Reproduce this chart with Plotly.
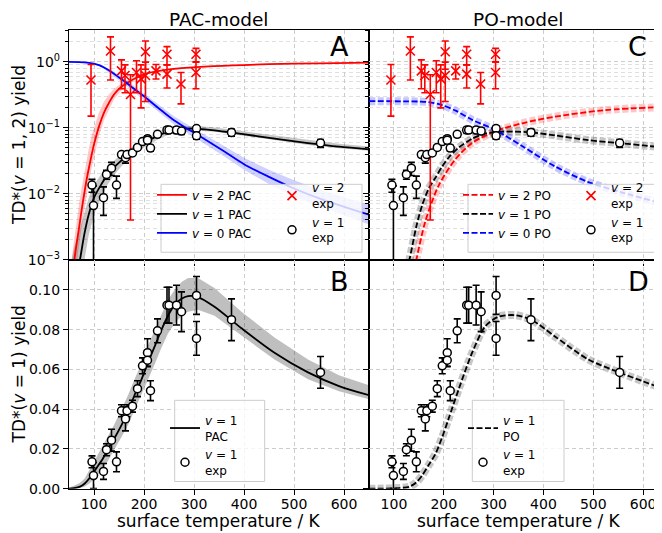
import plotly.graph_objects as go

W, H = 662, 533
FONT = "DejaVu Sans"

# ---------------- experimental data ----------------
T_v1 = [96, 99, 119, 125, 135, 145, 155, 163, 166, 177, 187, 197, 207, 207, 213, 227, 246, 250, 265, 275, 305, 305, 375, 553]
Y_v1 = [0.0135, 0.0066, 0.0087, 0.0196, 0.0244, 0.0135, 0.0392, 0.0351, 0.0392, 0.0415, 0.0503, 0.0618,
        0.0684, 0.0646, 0.0493, 0.0794, 0.0923, 0.0923, 0.0923, 0.0890, 0.0972, 0.0756, 0.0850, 0.0585]
E_v1 = [0.003, 0.00655, 0.004, 0.003, 0.0055, 0.005, 0.003, 0.006, 0.003, 0.003, 0.004, 0.004,
        0.007, 0.003, 0.005, 0.006, 0.009, 0.009, 0.010, 0.010, 0.0095, 0.0085, 0.0105, 0.008]

T_v2 = [94, 133, 155, 162, 173, 185, 194, 203, 203, 224, 246, 246, 274, 304, 304]
Y_v2 = [0.53, 1.46, 0.73, 0.62, 0.32, 0.69, 0.55, 1.42, 0.62, 0.73, 1.30, 0.65, 0.46, 1.30, 0.69]
E_v2 = [0.38, 0.93, 0.34, 0.28, 0.316, 0.35, 0.35, 0.65, 0.37, 0.18, 0.40, 0.25, 0.23, 0.30, 0.30]

# ---------------- PAC model ----------------
T_pac2 = [55, 60, 65, 70, 75, 80, 85, 90, 95, 100, 110, 120, 130, 140, 155, 170, 190, 210, 240, 275, 340, 450, 550, 650]
pac2 = [0.0004, 0.0009, 0.0017, 0.003, 0.0055, 0.0095, 0.016, 0.025, 0.038, 0.056, 0.105, 0.17, 0.24, 0.32,
        0.42, 0.50, 0.60, 0.68, 0.75, 0.80, 0.86, 0.92, 0.95, 0.97]
pac2_hi = [0.001, 0.002, 0.004, 0.007, 0.012, 0.02, 0.032, 0.05, 0.075, 0.10, 0.17, 0.25, 0.32, 0.39,
           0.47, 0.54, 0.62, 0.69, 0.76, 0.81, 0.87, 0.93, 0.96, 0.98]
pac2_lo = [0.0002, 0.0005, 0.0009, 0.0016, 0.003, 0.005, 0.009, 0.015, 0.024, 0.037, 0.075, 0.13, 0.19, 0.27,
           0.37, 0.46, 0.58, 0.66, 0.74, 0.79, 0.85, 0.91, 0.94, 0.96]

T_pac1 = [50, 60, 72, 81, 90, 101, 115, 128, 140, 155, 168, 181, 195, 208, 222, 235, 248, 261, 275, 288,
          308, 341, 395, 461, 528, 590, 650]
pac1 = [0.00005, 0.0003, 0.001, 0.0025, 0.005, 0.009, 0.014, 0.0198, 0.025, 0.032, 0.039, 0.047, 0.055,
        0.0634, 0.072, 0.080, 0.087, 0.0923, 0.0955, 0.0969, 0.0964, 0.0915, 0.0807, 0.0684, 0.0585, 0.0516, 0.047]
pac1_hi = [0.0006, 0.0015, 0.003, 0.005, 0.009, 0.014, 0.02, 0.026, 0.032, 0.040, 0.047, 0.055, 0.063,
           0.072, 0.080, 0.088, 0.095, 0.100, 0.104, 0.106, 0.106, 0.101, 0.089, 0.076, 0.065, 0.057, 0.052]
pac1_lo = [0.00001, 0.00005, 0.0003, 0.001, 0.0025, 0.005, 0.009, 0.014, 0.019, 0.026, 0.032, 0.039, 0.047,
           0.055, 0.063, 0.071, 0.078, 0.083, 0.087, 0.089, 0.090, 0.087, 0.077, 0.065, 0.055, 0.049, 0.045]

T_pac0 = [50, 70, 80, 90, 100, 110, 120, 135, 150, 165, 180, 200, 220, 240, 260, 290, 320, 360, 400, 450, 500, 560, 650]
pac0 = [0.995, 0.99, 0.98, 0.965, 0.94, 0.89, 0.82, 0.70, 0.58, 0.48, 0.39, 0.30, 0.225, 0.17, 0.13, 0.093,
        0.068, 0.044, 0.028, 0.018, 0.012, 0.008, 0.0048]
pac0_hi = [1.0, 0.995, 0.99, 0.98, 0.96, 0.92, 0.86, 0.75, 0.63, 0.53, 0.43, 0.335, 0.255, 0.195, 0.15, 0.108,
           0.08, 0.053, 0.035, 0.023, 0.016, 0.011, 0.0068]
pac0_lo = [0.99, 0.985, 0.97, 0.95, 0.92, 0.86, 0.78, 0.65, 0.53, 0.43, 0.35, 0.27, 0.20, 0.15, 0.112, 0.08,
           0.058, 0.037, 0.023, 0.014, 0.009, 0.006, 0.0034]

# ---------------- PO model ----------------
T_po2 = [130, 145, 163, 190, 223, 257, 303, 357, 423, 523, 650]
po2 = [0.0003, 0.001, 0.0038, 0.0134, 0.033, 0.059, 0.088, 0.117, 0.147, 0.185, 0.208]

T_po1 = [50, 80, 110, 131, 145, 157, 170, 183, 197, 210, 230, 257, 283, 310, 343, 377, 423, 490, 552, 600, 650]
po1 = [0.00001, 0.00005, 0.0003, 0.001, 0.0032, 0.0068, 0.012, 0.0173, 0.026, 0.0354, 0.050, 0.0684, 0.0816,
       0.0865, 0.0873, 0.0848, 0.0766, 0.065, 0.0585, 0.054, 0.0494]

T_po0 = [50, 120, 150, 170, 197, 225, 257, 303, 357, 423, 490, 557, 650]
po0 = [0.253, 0.252, 0.25, 0.245, 0.22, 0.18, 0.132, 0.093, 0.053, 0.026, 0.015, 0.0105, 0.0067]

# tick labels
log_tickvals = [0.001, 0.01, 0.1, 1]
log_ticktext = ["10<sup>−3</sup>", "10<sup>−2</sup>", "10<sup>−1</sup>", "10<sup>0</sup>"]
lin_tickvals = [0.0, 0.02, 0.04, 0.06, 0.08, 0.10]
lin_ticktext = ["0.00", "0.02", "0.04", "0.06", "0.08", "0.10"]
x_ticks = [100, 200, 300, 400, 500, 600]

RED, BLACK, BLUE = "#ff0000", "#000000", "#0000ff"
DASH = "6px,2.5px"

fig = go.Figure()


def band(xa, ya, T, lo, hi, color):
    fig.add_trace(go.Scatter(x=list(T) + list(T)[::-1], y=list(hi) + list(lo)[::-1], fill="toself",
                             fillcolor=color, line=dict(width=0), mode="lines", hoverinfo="skip",
                             showlegend=False, xaxis=xa, yaxis=ya))


def curve(xa, ya, T, v, color, name=None, legend=None, dash="solid", width=1.8):
    fig.add_trace(go.Scatter(x=T, y=v, mode="lines", line=dict(color=color, width=width, dash=dash,
                                                               shape="spline", smoothing=0.8),
                             name=name, legend=legend, showlegend=name is not None,
                             xaxis=xa, yaxis=ya))


def blur(xa, ya, T, v, color):
    fig.add_trace(go.Scatter(x=T, y=v, mode="lines", line=dict(color=color, width=8, dash=DASH,
                                                               shape="spline", smoothing=0.8),
                             showlegend=False, hoverinfo="skip", xaxis=xa, yaxis=ya))


def exp_v1(xa, ya, legend):
    fig.add_trace(go.Scatter(x=T_v1, y=Y_v1, mode="markers", name="<i>v</i> = 1<br>exp", legend=legend,
                             error_y=dict(type="data", array=E_v1, color=BLACK, thickness=1.6, width=3.5),
                             marker=dict(symbol="circle", size=8, color="white",
                                         line=dict(color=BLACK, width=1.5)),
                             xaxis=xa, yaxis=ya))


def exp_v2(xa, ya, legend):
    fig.add_trace(go.Scatter(x=T_v2, y=Y_v2, mode="markers", name="<i>v</i> = 2<br>exp", legend=legend,
                             error_y=dict(type="data", array=E_v2, color=RED, thickness=1.6, width=3.5),
                             marker=dict(symbol="x-thin", size=9, color=RED,
                                         line=dict(color=RED, width=1.6)),
                             xaxis=xa, yaxis=ya))


# ---- Panel A (x, y) ----
band("x", "y", T_pac2, pac2_lo, pac2_hi, "rgba(255,0,0,0.22)")
band("x", "y", T_pac1, pac1_lo, pac1_hi, "rgba(0,0,0,0.22)")
band("x", "y", T_pac0, pac0_lo, pac0_hi, "rgba(0,0,255,0.18)")
curve("x", "y", T_pac2, pac2, RED, "<i>v</i> = 2 PAC", "legend")
curve("x", "y", T_pac1, pac1, BLACK, "<i>v</i> = 1 PAC", "legend")
curve("x", "y", T_pac0, pac0, BLUE, "<i>v</i> = 0 PAC", "legend")
exp_v2("x", "y", "legend2")
exp_v1("x", "y", "legend2")

# ---- Panel C (x2, y2) ----
blur("x2", "y2", T_po2, po2, "rgba(255,0,0,0.22)")
blur("x2", "y2", T_po1, po1, "rgba(0,0,0,0.22)")
blur("x2", "y2", T_po0, po0, "rgba(0,0,255,0.22)")
curve("x2", "y2", T_po2, po2, RED, "<i>v</i> = 2 PO", "legend4", DASH)
curve("x2", "y2", T_po1, po1, BLACK, "<i>v</i> = 1 PO", "legend4", DASH)
curve("x2", "y2", T_po0, po0, BLUE, "<i>v</i> = 0 PO", "legend4", DASH)
exp_v2("x2", "y2", "legend5")
exp_v1("x2", "y2", "legend5")

# ---- Panel B (x3, y3) ----
band("x3", "y3", T_pac1, pac1_lo, pac1_hi, "rgba(0,0,0,0.25)")
curve("x3", "y3", T_pac1, pac1, BLACK, "<i>v</i> = 1<br>PAC", "legend3")
exp_v1("x3", "y3", "legend3")

# ---- Panel D (x4, y4) ----
blur("x4", "y4", T_po1, po1, "rgba(0,0,0,0.22)")
curve("x4", "y4", T_po1, po1, BLACK, "<i>v</i> = 1<br>PO", "legend6", DASH)
exp_v1("x4", "y4", "legend6")

# ---------------- layout ----------------
xL = [61 / W, 361 / W]
xR = [361 / W, 660 / W]
yT = [(H - 255.5) / H, (H - 22.7) / H]
yB = [(H - 488.0) / H, (H - 255.5) / H]

grid = dict(showgrid=True, gridcolor="#cccccc", griddash="4px,3px", gridwidth=0.9)
axis_common = dict(showline=True, linecolor="black", linewidth=1.3, mirror=True, ticks="outside",
                   ticklen=5, tickwidth=1.2, tickcolor="black",
                   tickfont=dict(family=FONT, size=14, color="black"), zeroline=False, **grid)


def xaxis(domain, anchor, labels):
    return dict(domain=domain, anchor=anchor, range=[50, 650], tickvals=x_ticks,
                showticklabels=labels, ticklabelstandoff=-3, **axis_common)


minor_log = [m * 10 ** e for e in (-3, -2, -1, 0) for m in range(2, 10) if m * 10 ** e <= 3]


def ylog(domain, anchor, labels):
    return dict(domain=domain, anchor=anchor, type="log", range=[-3, 0.477],
                tickvals=log_tickvals, ticktext=log_ticktext, showticklabels=labels,
                minor=dict(tickvals=minor_log, ticks="outside", ticklen=3, tickcolor="black",
                           showgrid=True, gridcolor="#e0e0e0", griddash="4px,3px", gridwidth=0.8),
                **axis_common)


def ylin(domain, anchor, labels):
    return dict(domain=domain, anchor=anchor, range=[0, 0.1152], tickvals=lin_tickvals,
                ticktext=lin_ticktext, showticklabels=labels, **axis_common)


def px(x):
    return x / W


def py(y):
    return (H - y) / H


def leg(x, y):
    return dict(x=px(x), y=py(y), xanchor="left", yanchor="top", bgcolor="rgba(0,0,0,0)",
                borderwidth=0, font=dict(family=FONT, size=12, color="black"),
                tracegroupgap=0, itemwidth=30, traceorder="normal")


shapes = []
for (x0, y0, x1, y1) in [(153, 179, 354, 248), (460, 179, 653, 248), (166.7, 398.3, 256.7, 480.7),
                         (464.3, 398.3, 556, 480.7)]:
    shapes.append(dict(type="rect", xref="paper", yref="paper", x0=px(x0), x1=px(x1), y0=py(y1), y1=py(y0),
                       line=dict(color="#cccccc", width=1), fillcolor="rgba(255,255,255,0.8)", layer="above"))

annotations = []
for text, x, y, size in [("PAC-model", 211, 12, 18.5), ("PO-model", 511, 12, 18.5),
                         ("A", 331, 39, 27), ("C", 629, 39, 27), ("B", 331, 278, 27), ("D", 630, 278, 27),
                         ("surface temperature / K", 211, 521, 17), ("surface temperature / K", 511, 521, 17)]:
    annotations.append(dict(text=text, x=px(x), y=py(y), xref="paper", yref="paper", showarrow=False,
                            xanchor="center", yanchor="middle", font=dict(family=FONT, size=size, color="black")))
for text, y in [("TD*(<i>v</i> = 1, 2) yield", 139), ("TD*(<i>v</i> = 1) yield", 372)]:
    annotations.append(dict(text=text, x=px(11), y=py(y), xref="paper", yref="paper", showarrow=False,
                            textangle=-90, xanchor="center", yanchor="middle",
                            font=dict(family=FONT, size=17, color="black")))

fig.update_layout(
    width=W, height=H, margin=dict(l=0, r=0, t=0, b=0),
    paper_bgcolor="white", plot_bgcolor="white", showlegend=True,
    font=dict(family=FONT, size=13, color="black"),
    xaxis=xaxis(xL, "y", False), yaxis=ylog(yT, "x", True),
    xaxis2=xaxis(xR, "y2", False), yaxis2=ylog(yT, "x2", False),
    xaxis3=xaxis(xL, "y3", True), yaxis3=ylin(yB, "x3", True),
    xaxis4=xaxis(xR, "y4", True), yaxis4=ylin(yB, "x4", False),
    legend=leg(144, 175), legend2=leg(264, 168),
    legend4=leg(450, 175), legend5=leg(563, 168),
    legend3=leg(157, 404), legend6=leg(455, 404),
    shapes=shapes, annotations=annotations,
)

fig.write_html("out.html")
